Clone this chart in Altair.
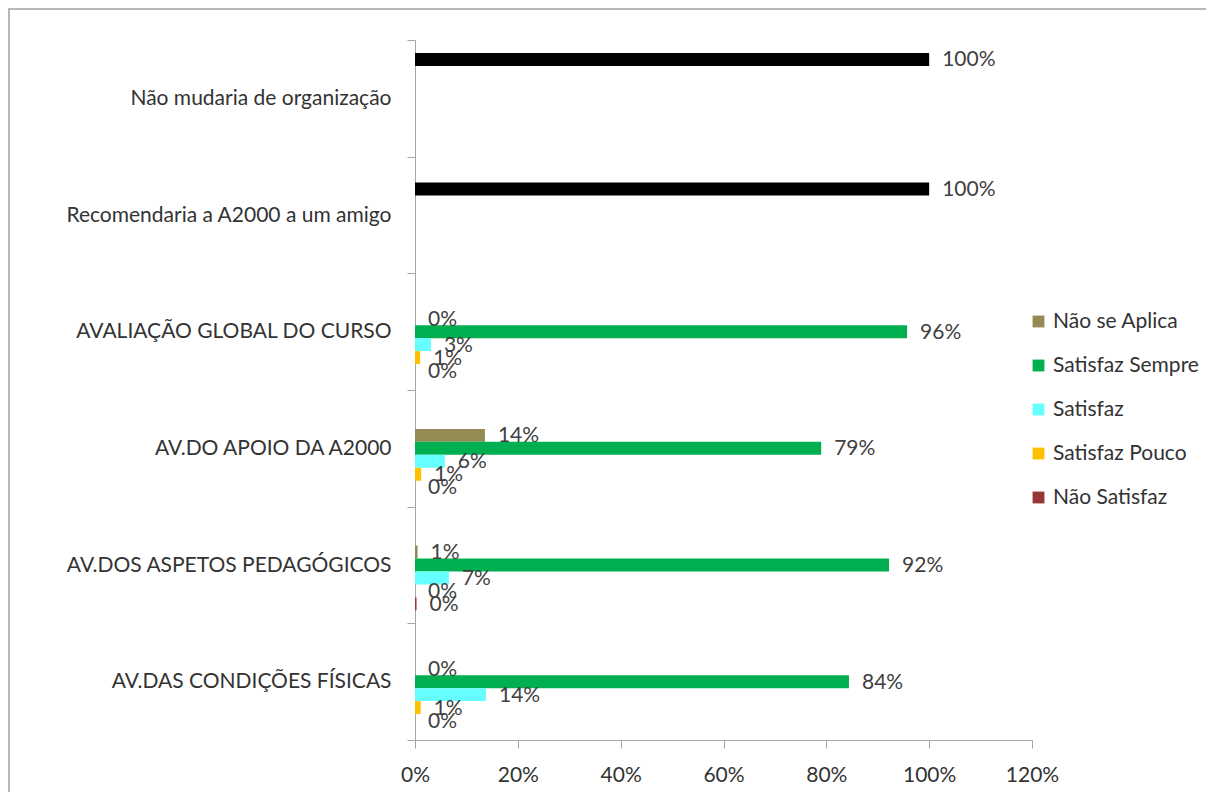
import altair as alt
import pandas as pd

categories = [
    "Não mudaria de organização",
    "Recomendaria a A2000 a um amigo",
    "AVALIAÇÃO GLOBAL DO CURSO",
    "AV.DO APOIO DA A2000",
    "AV.DOS ASPETOS PEDAGÓGICOS",
    "AV.DAS CONDIÇÕES FÍSICAS",
]
series = ["Não mudaria", "Recomendaria", "Não se Aplica", "Satisfaz Sempre", "Satisfaz", "Satisfaz Pouco", "Não Satisfaz"]
legend_series = ["Não se Aplica", "Satisfaz Sempre", "Satisfaz", "Satisfaz Pouco", "Não Satisfaz"]
colors = ["#000000", "#000000", "#948A54", "#00B050", "#66FFFF", "#FFC000", "#953735"]

# first two categories: single black bar each
nao_mudaria = [100]
recomendaria = [100]
# remaining four categories
rated_categories = categories[2:]
nao_se_aplica = [0.0, 13.6, 0.5, 0.0]
satisfaz_sempre = [95.7, 79.0, 92.2, 84.4]
satisfaz = [3.1, 5.8, 6.6, 13.8]
satisfaz_pouco = [1.0, 1.2, 0.0, 1.1]
nao_satisfaz = [0.0, 0.0, 0.3, 0.0]

rows = [
    {"cat": categories[0], "series": "Não mudaria", "value": nao_mudaria[0]},
    {"cat": categories[1], "series": "Recomendaria", "value": recomendaria[0]},
]
for name, vals in [
    ("Não se Aplica", nao_se_aplica),
    ("Satisfaz Sempre", satisfaz_sempre),
    ("Satisfaz", satisfaz),
    ("Satisfaz Pouco", satisfaz_pouco),
    ("Não Satisfaz", nao_satisfaz),
]:
    for c, v in zip(rated_categories, vals):
        rows.append({"cat": c, "series": name, "value": v})
df = pd.DataFrame(rows)
df["label"] = [f"{int(v + 0.5)}%" for v in df["value"]]

FONT = "Lato"
FS = 21

y_enc = alt.Y(
    "cat:N",
    sort=categories,
    scale=alt.Scale(paddingInner=0, paddingOuter=0),
    axis=alt.Axis(
        title=None,
        tickBand="extent",
        tickSize=8,
        tickColor="#A6A6A6",
        domainColor="#A6A6A6",
        labelFontSize=FS,
        labelColor="#333333",
        labelPadding=16,
        labelFont=FONT,
        labelLimit=400,
    ),
)
yoff_enc = alt.YOffset("series:N", scale=alt.Scale(domain=series, paddingInner=0, paddingOuter=1))
x_enc = alt.X(
    "value:Q",
    scale=alt.Scale(domain=[0, 120], nice=False),
    axis=alt.Axis(
        title=None,
        values=[0, 20, 40, 60, 80, 100, 120],
        labelExpr="datum.value + '%'",
        labelFlush=False,
        grid=False,
        tickSize=8,
        tickColor="#A6A6A6",
        domainColor="#A6A6A6",
        labelFontSize=FS,
        labelColor="#333333",
        labelPadding=16,
        labelFont=FONT,
    ),
)

bars = alt.Chart(df).mark_bar().encode(
    x=x_enc,
    y=y_enc,
    yOffset=yoff_enc,
    color=alt.Color(
        "series:N",
        scale=alt.Scale(domain=series, range=colors),
        legend=alt.Legend(
            values=legend_series,
            title=None,
            orient="none",
            legendX=613,
            legendY=271,
            symbolType="square",
            symbolSize=140,
            symbolStrokeWidth=0,
            labelFontSize=FS,
            labelColor="#333333",
            labelFont=FONT,
            rowPadding=22,
        ),
    ),
)

labels = alt.Chart(df).mark_text(
    align="left", baseline="middle", dx=13, dy=1, fontSize=FS, color="#404040", font=FONT
).encode(
    x="value:Q",
    y=alt.Y("cat:N", sort=categories),
    yOffset=alt.YOffset("series:N", scale=alt.Scale(domain=series)),
    text="label:N",
)

frame = alt.Chart(pd.DataFrame({"k": [0]})).mark_rect(
    fill=None, stroke="#A0A0A0", strokeWidth=1.5, clip=False
).encode(
    x=alt.value(-406), x2=alt.value(900), y=alt.value(-31), y2=alt.value(800)
)

chart = (
    alt.layer(frame, bars, labels)
    .properties(
        width=617,
        height=700,
        autosize=alt.AutoSizeParams(type="none"),
        padding={"left": 407, "top": 32, "right": 174, "bottom": 52},
        background="white",
    )
    .configure_view(stroke=None)
)

chart.save("out.html", embed_options={"renderer": "svg", "actions": False})
